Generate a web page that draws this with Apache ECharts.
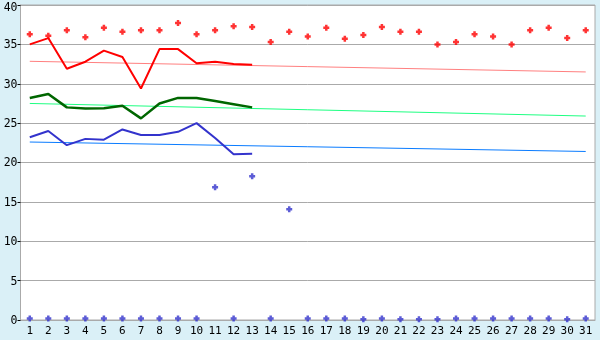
<!DOCTYPE html>
<html><head><meta charset="utf-8">
<script src="https://cdn.jsdelivr.net/npm/echarts@6/dist/echarts.min.js"></script>
<style>html,body{margin:0;padding:0;background:#DAF0F7;}#c{width:600px;height:340px;}</style>
</head><body><div id="c"></div>
<script>
const days = Array.from({length:31},(_,i)=>String(i+1));
const yTicks = [0,5,10,15,20,25,30,35,40];
const redLine = [35.0,35.8,31.9,32.8,34.2,33.4,29.4,34.4,34.4,32.6,32.8,32.5,32.4];
const redPoints = [36.3,36.1,36.8,35.9,37.1,36.6,36.8,36.8,37.7,36.3,36.8,37.3,37.2,35.3,36.6,36.0,37.1,35.7,36.2,37.2,36.6,36.6,35.0,35.3,36.3,36.0,35.0,36.8,37.1,35.8,36.8];
const greenLine = [28.2,28.7,27.0,26.85,26.9,27.2,25.6,27.5,28.2,28.2,27.8,27.4,27.0];
const blueLine = [23.2,24.0,22.2,23.0,22.9,24.2,23.5,23.5,23.9,25.0,23.1,21.05,21.1];
const bluePoints = [0.2,0.2,0.2,0.2,0.2,0.2,0.2,0.2,0.2,0.2,16.85,0.2,18.25,0.2,14.05,0.2,0.2,0.2,0.1,0.2,0.1,0.1,0.1,0.2,0.2,0.2,0.2,0.2,0.2,0.1,0.2];
const redTrend = [32.85,31.5];   // start (day 1), end (day 31)
const greenTrend = [27.5,25.9];
const blueTrend = [22.6,21.4];

function endpoints(pair){ const a = days.map(()=>null); a[0]=pair[0]; a[days.length-1]=pair[1]; return a; }
const marker = 'path://M1.75,0H4.25V1.75H6V4.25H4.25V6H1.75V4.25H0V1.75H1.75Z';
const font = 'DejaVu Sans Mono';
const yMax = yTicks[yTicks.length-1];

const chart = echarts.init(document.getElementById('c'));
chart.setOption({
  backgroundColor:'#DAF0F7',
  animation:false,
  grid:{left:20.5,right:5,top:5,bottom:20,show:true,backgroundColor:'#ffffff',borderColor:'#AAAAAA',borderWidth:1,containLabel:false},
  xAxis:{type:'category',data:days,boundaryGap:true,
    axisLine:{lineStyle:{color:'#AAAAAA',width:1}},
    axisTick:{alignWithLabel:true,length:5,lineStyle:{color:'#000'}},
    axisLabel:{color:'#000',fontFamily:font,fontSize:11,margin:6,interval:0},
    splitLine:{show:false}},
  yAxis:{type:'value',min:yTicks[0],max:yMax,interval:5,
    axisLine:{show:true,lineStyle:{color:'#AAAAAA'}},
    axisTick:{show:true,length:3,lineStyle:{color:'#000'}},
    axisLabel:{color:'#000',fontFamily:font,fontSize:11.5,margin:3,
      formatter:v=> v===yMax ? '{t|'+v+'}' : '{n|'+v+'}',
      rich:{t:{fontFamily:font,fontSize:11.5,color:'#000',padding:[6,0,0,0]},
            n:{fontFamily:font,fontSize:11.5,color:'#000',padding:[2,0,0,0]}}},
    splitLine:{lineStyle:{color:'#AAAAAA',width:1}}},
  series:[
    {type:'line',data:endpoints(redTrend),connectNulls:true,symbol:'none',lineStyle:{color:'#FF8080',width:1},z:1},
    {type:'line',data:endpoints(greenTrend),connectNulls:true,symbol:'none',lineStyle:{color:'#1EFF82',width:1},z:1},
    {type:'line',data:endpoints(blueTrend),connectNulls:true,symbol:'none',lineStyle:{color:'#0A7CFF',width:1},z:1},
    {type:'line',data:redLine,symbol:'none',lineStyle:{color:'#FF0000',width:2},z:2},
    {type:'line',data:greenLine,symbol:'none',lineStyle:{color:'#006600',width:2.5},z:2},
    {type:'line',data:blueLine,symbol:'none',lineStyle:{color:'#3333CC',width:2},z:2},
    {type:'scatter',data:redPoints,symbol:marker,symbolSize:6,itemStyle:{color:'#FF0000'},z:3},
    {type:'scatter',data:bluePoints,symbol:marker,symbolSize:6,itemStyle:{color:'#3333CC'},z:3}
  ]
});
</script></body></html>
